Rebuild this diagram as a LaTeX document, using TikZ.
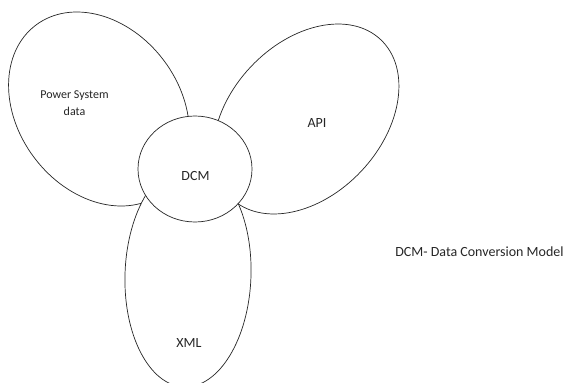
\documentclass[tikz,border=0pt]{standalone}
\usepackage{fontspec}
\setmainfont{Carlito}
\usetikzlibrary{shapes.geometric}
\begin{document}
\begin{tikzpicture}[x=1pt,y=-1pt,
  petal/.style={ellipse, draw=black!85, line width=0.7pt, fill=white, inner sep=0pt},
  lbl/.style={inner sep=0pt, text=black!85, font=\fontsize{14}{17}\selectfont}]
\useasboundingbox (0,0) rectangle (571,383);
\node[petal, minimum width=210pt, minimum height=162pt, rotate=-53] (power) at (99,109) {};
\node[petal, minimum width=218pt, minimum height=152pt, rotate=46.8] (api) at (306,119) {};
\node[petal, minimum width=126pt, minimum height=224pt, rotate=-2] (xml) at (188,275) {};
\node[petal, minimum width=114pt, minimum height=106pt] (dcm) at (195,169) {};
\node[lbl, font=\fontsize{12}{16.5}\selectfont, align=center] (ptxt) at (74.5,103) {Power System\\data};
\node[lbl] (apitxt) at (317,123) {API};
\node[lbl] (xmltxt) at (189,343.5) {XML};
\node[lbl] (dcmtxt) at (195.5,176.5) {DCM};
\node[lbl] (legend) at (479.5,252) {DCM- Data Conversion Model};
\end{tikzpicture}
\end{document}
